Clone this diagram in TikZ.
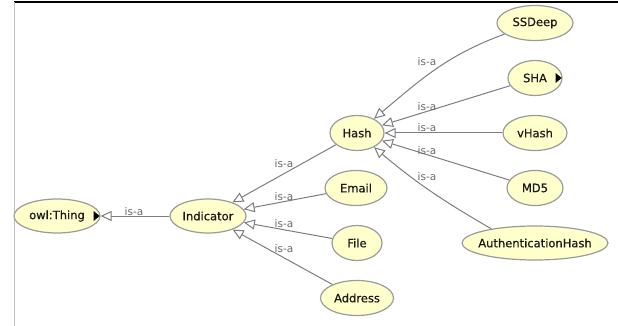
\documentclass[tikz,border=0pt]{standalone}
\usepackage{fontspec}
\setmainfont{DejaVu Sans}
\newfontfamily\clsfont[FakeBold=0.6]{DejaVu Sans}
\usetikzlibrary{shapes.geometric,arrows.meta}
\definecolor{nodefill}{RGB}{255,255,204}
\definecolor{nodeline}{RGB}{155,155,155}
\definecolor{edgecol}{RGB}{125,125,125}
\definecolor{labelcol}{RGB}{105,105,105}
\newcommand{\ctext}[1]{\makebox[0pt][c]{#1}}
\begin{document}
\begin{tikzpicture}[x=1pt,y=1pt,
  cls/.style={ellipse, draw=nodeline, line width=1.2pt, fill=nodefill, inner sep=0pt,
    minimum height=35pt, font=\clsfont\fontsize{11.5}{13}\selectfont, text=black!90},
  isa/.style={draw=edgecol, line width=1pt, -{Triangle[length=11pt,width=10pt,fill=white]}},
  lbl/.style={text=labelcol, font=\fontsize{10.5}{12}\selectfont, inner sep=0pt},
  more/.style={fill=black}]
\useasboundingbox (0,0) rectangle (618,-326);
\draw[black, line width=1.5pt] (14,-2) -- (618,-2);
\draw[black!25, line width=1pt] (14,-2) -- (14,-326);

% nodes
\node[cls, minimum width=86pt, minimum height=34pt] (thing) at (57,-216) {\ctext{owl:Thing}};
\node[cls, minimum width=76pt, minimum height=34pt] (ind) at (208,-216) {\ctext{Indicator}};
\node[cls, minimum width=54pt] (hash) at (357,-133) {\ctext{Hash}};
\node[cls, minimum width=62pt] (email) at (356,-188) {\ctext{Email}};
\node[cls, minimum width=50pt] (file) at (357,-243) {\ctext{File}};
\node[cls, minimum width=73pt] (addr) at (357,-298) {\ctext{Address}};
\node[cls, minimum width=76pt] (ssdeep) at (535,-23) {\ctext{SSDeep}};
\node[cls, minimum width=54pt] (sha) at (535,-78) {\ctext{SHA}};
\node[cls, minimum width=64pt] (vhash) at (535,-133) {\ctext{vHash}};
\node[cls, minimum width=56pt] (md5) at (535,-188) {\ctext{MD5}};
\node[cls, minimum width=146pt, minimum height=34pt] (auth) at (535,-243) {\ctext{AuthenticationHash}};

% "more" markers
\fill[more] ([xshift=-7pt]thing.east) -- ++(0,5) -- ++(6,-5) -- ++(-6,-5) -- cycle;
\fill[more] ([xshift=-7pt]sha.east) -- ++(0,5) -- ++(6,-5) -- ++(-6,-5) -- cycle;

% connectors
\draw[isa] (ind) -- (thing);
\draw[isa] (hash) -- (ind);
\draw[isa] (email) -- (ind);
\draw[isa] (file) -- (ind);
\draw[isa] (addr) -- (ind);
\draw[isa] (ssdeep) to[out=200, in=40] (hash);
\draw[isa] (sha) -- (hash);
\draw[isa] (vhash) -- (hash);
\draw[isa] (md5) -- (hash);
\draw[isa] (auth.162) to[out=150, in=-40] (hash);

% labels
\node[lbl] (l1) at (134,-212) {is-a};
\node[lbl] (l2) at (284,-164) {is-a};
\node[lbl] (l3) at (284,-197) {is-a};
\node[lbl] (l4) at (284,-224) {is-a};
\node[lbl] (l5) at (284,-249) {is-a};
\node[lbl] (l6) at (427,-62) {is-a};
\node[lbl] (l7) at (427,-107) {is-a};
\node[lbl] (l8) at (427,-128) {is-a};
\node[lbl] (l9) at (427,-151) {is-a};
\node[lbl] (l10) at (427,-177) {is-a};
\end{tikzpicture}
\end{document}
